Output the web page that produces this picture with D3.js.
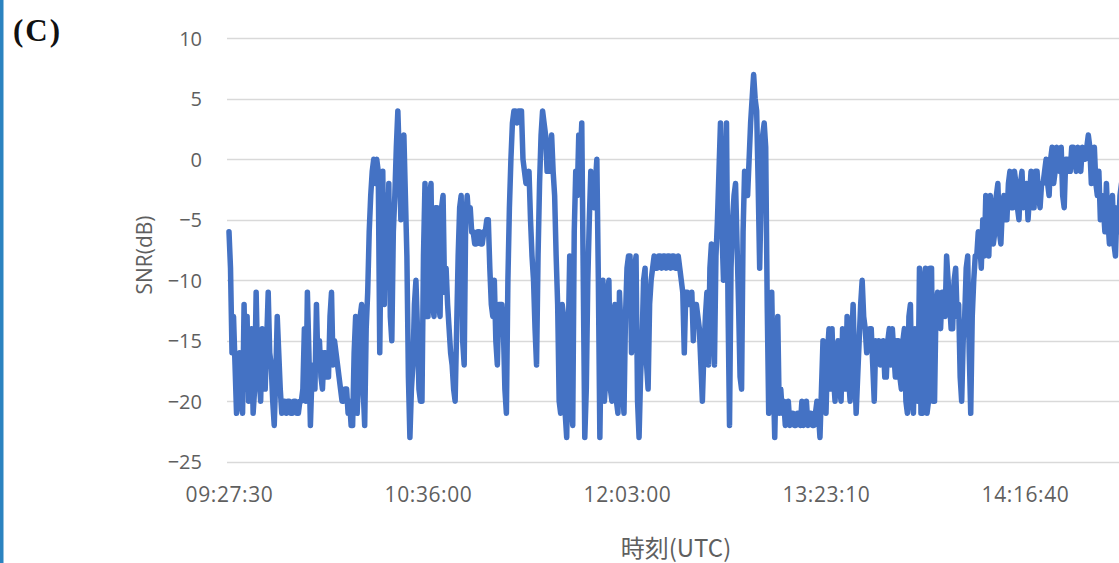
<!DOCTYPE html>
<html>
<head>
<meta charset="utf-8">
<script src="https://cdn.jsdelivr.net/npm/d3@7"></script>
<style>
  html, body { margin: 0; padding: 0; background: #ffffff; }
  svg { display: block; }
</style>
</head>
<body>
<svg id="chart" width="1119" height="563"></svg>
<script>
// SNR samples (dB), one per record in time order
const snr = [
  -6, -9, -16, -13, -17, -21, -20, -16, -19, -21, -12, -19, -13, -20, -17, -14, -21, -19, -11, -17,
  -18, -20, -14, -19, -19, -15, -11, -16, -17, -20, -22, -18, -13, -16, -19, -21, -20, -20, -21, -20,
  -20, -21, -21, -20, -20, -21, -21, -20, -20, -19, -14, -20, -11, -16, -22, -18, -17, -19, -12, -17,
  -15, -18, -19, -16, -16, -18, -18, -13, -11, -17, -15, -16, -17, -18, -19, -20, -20, -19, -19, -21,
  -20, -22, -22, -16, -13, -21, -18, -13, -12, -19, -22, -14, -11, -6, -3, -1, 0, -2, 0, -1,
  -16, -5, -1, -12, -3, -8, -2, -13, -15, -6, -3, 1, 4, 0, -5, -1, 2, -3, -8, -18,
  -23, -19, -17, -12, -10, -14, -19, -20, -20, -8, -2, -13, -13, -3, -2, -12, -13, -4, -4, -12,
  -13, -4, -3, -11, -9, -12, -14, -16, -17, -19, -20, -14, -8, -4, -3, -15, -17, -5, -3, -5,
  -4, -6, -6, -7, -7, -6, -6, -7, -7, -6, -6, -5, -5, -9, -12, -13, -10, -15, -17, -12,
  -12, -12, -14, -19, -21, -10, -4, 0, 3, 4, 4, 3, 4, 4, 4, 0, -1, -2, -2, -1,
  -5, -8, -10, -14, -17, -8, -2, 2, 4, 3, 2, -1, -1, 1, 2, -1, -3, -8, -12, -20,
  -21, -12, -13, -21, -23, -15, -8, -20, -22, -6, -1, -3, 2, 0, 3, -10, -23, -19, -10, -5,
  -1, -3, -4, -2, 0, -10, -23, -14, -10, -20, -18, -11, -10, -19, -20, -13, -12, -20, -21, -11,
  -14, -19, -21, -13, -9, -8, -8, -16, -14, -9, -8, -20, -23, -18, -15, -10, -9, -17, -19, -12,
  -10, -9, -8, -9, -9, -8, -8, -9, -8, -8, -9, -8, -8, -9, -8, -8, -9, -9, -8, -9,
  -10, -11, -16, -11, -11, -12, -12, -11, -15, -12, -12, -13, -14, -17, -20, -16, -13, -11, -17, -9,
  -7, -14, -17, -8, -5, -1, 3, -6, -10, -2, 3, -12, -22, -9, -5, -3, -2, -7, -12, -18,
  -19, -6, -1, -2, -3, 0, 3, 5, 7, 5, 4, -2, -9, -3, 2, 3, 1, -12, -21, -16,
  -11, -18, -23, -17, -13, -21, -19, -21, -20, -22, -21, -20, -22, -21, -21, -22, -22, -21, -21, -22,
  -20, -22, -21, -20, -22, -21, -21, -22, -22, -21, -20, -21, -23, -19, -15, -20, -21, -16, -14, -19,
  -14, -18, -20, -16, -15, -19, -20, -14, -16, -19, -13, -18, -20, -15, -12, -17, -21, -18, -15, -12,
  -10, -13, -14, -16, -15, -14, -14, -17, -20, -15, -16, -15, -17, -16, -15, -18, -18, -15, -14, -17,
  -14, -16, -18, -15, -15, -18, -19, -15, -14, -20, -21, -13, -12, -20, -21, -14, -15, -20, -9, -21,
  -21, -10, -9, -21, -20, -9, -9, -20, -20, -12, -11, -13, -14, -11, -11, -13, -8, -10, -12, -14,
  -14, -10, -9, -13, -12, -18, -20, -15, -13, -9, -8, -16, -21, -13, -10, -8, -8, -6, -7, -9,
  -5, -8, -3, -6, -8, -3, -4, -7, -6, -3, -2, -6, -7, -4, -3, -5, -5, -2, -1, -4,
  -4, -1, -2, -4, -5, -2, -1, -4, -3, -2, -5, -3, -1, -4, -4, -1, -1, -3, -4, -2,
  -2, -1, 0, -2, -3, 0, 1, -2, -1, 1, 0, -1, 1, -3, -4, 0, 0, -1, -1, 1,
  1, 0, -1, 1, 0, -1, 1, 0, 0, 1, 2, 1, -2, 0, 1, -2, -3, -1, -5, -3,
  -4, -6, -2, -5, -7, -4, -3, -7, -8, -4, -6, -3, -2, -6, -5, -7, -6, -3, -4, -6
];

// category labels shown on the time axis and the record they sit under
const timeLabels = ["09:27:30", "10:36:00", "12:03:00", "13:23:10", "14:16:40"];
const labelIndex = [0, 132, 264, 396, 528];

const yTicks = [10, 5, 0, -5, -10, -15, -20, -25];

const svg = d3.select("#chart");
const W = 1119, H = 563;

// frame accent on the left edge
svg.append("rect")
  .attr("x", 0).attr("y", 0)
  .attr("width", 3.5).attr("height", H)
  .attr("fill", "#2b83c0");

const plotLeft = 227;

const x = d3.scaleLinear()
  .domain([labelIndex[0], labelIndex[labelIndex.length - 1]])
  .range([229, 1025]);

const y = d3.scaleLinear()
  .domain([-25, 10])
  .range([461.7, 38.3]);

const font = "'Open Sans', 'Noto Sans', sans-serif";
const textColor = "#5f5f5f";

// horizontal gridlines
svg.append("g")
  .selectAll("line")
  .data(yTicks)
  .join("line")
  .attr("x1", plotLeft)
  .attr("x2", W)
  .attr("y1", d => Math.round(y(d)) + 0.5)
  .attr("y2", d => Math.round(y(d)) + 0.5)
  .attr("stroke", "#d9d9d9")
  .attr("stroke-width", 1.3);

// y axis tick labels
const yAxis = d3.axisLeft(y).tickValues(yTicks).tickSize(0).tickPadding(0)
  .tickFormat(d3.format("d"));
const gy = svg.append("g")
  .attr("transform", `translate(202,0)`)
  .call(yAxis);
gy.select(".domain").remove();
gy.selectAll("text")
  .attr("fill", textColor)
  .attr("font-family", font)
  .attr("font-size", 20)
  .attr("dy", "0.36em");

// x axis category labels
const xAxis = d3.axisBottom(x).tickValues(labelIndex).tickSize(0).tickPadding(0)
  .tickFormat((d, i) => timeLabels[i]);
const gx = svg.append("g")
  .attr("transform", `translate(0,487)`)
  .call(xAxis);
gx.select(".domain").remove();
gx.selectAll("text")
  .attr("fill", textColor)
  .attr("font-family", font)
  .attr("font-size", 21)
  .attr("letter-spacing", 0.6)
  .attr("dy", "0.71em");

// SNR trace
const line = d3.line()
  .x((d, i) => x(i))
  .y(d => y(d));

svg.append("path")
  .datum(snr)
  .attr("d", line)
  .attr("fill", "none")
  .attr("stroke", "#4472c4")
  .attr("stroke-width", 5.5)
  .attr("stroke-linejoin", "round")
  .attr("stroke-linecap", "round");

// axis titles
svg.append("text")
  .attr("transform", "translate(152,255) rotate(-90)")
  .attr("text-anchor", "middle")
  .attr("fill", textColor)
  .attr("font-family", font)
  .attr("font-size", 21)
  .text("SNR(dB)");

svg.append("text")
  .attr("x", 676)
  .attr("y", 557)
  .attr("text-anchor", "middle")
  .attr("fill", textColor)
  .attr("font-family", "'Noto Sans CJK JP', 'Open Sans', sans-serif")
  .attr("font-size", 24)
  .text("時刻(UTC)");

// panel tag
svg.append("text")
  .attr("x", 13)
  .attr("y", 41)
  .attr("fill", "#111111")
  .attr("font-family", "'Liberation Serif', serif")
  .attr("font-weight", "bold")
  .attr("font-size", 31)
  .attr("letter-spacing", 2)
  .text("(C)");
</script>
</body>
</html>
